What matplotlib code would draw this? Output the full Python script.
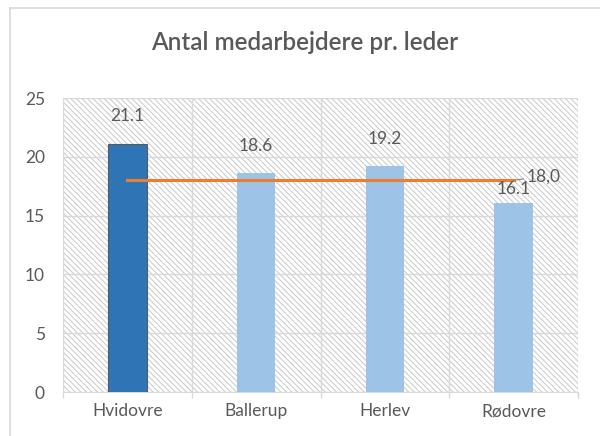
import numpy as np
import matplotlib.pyplot as plt
from matplotlib.lines import Line2D

plt.rcParams['font.family'] = ['Lato', 'DejaVu Sans']
plt.rcParams['hatch.color'] = '#C8C8C8'
plt.rcParams['hatch.linewidth'] = 0.7

title = "Antal medarbejdere pr. leder"
kommuner = ["Hvidovre", "Ballerup", "Herlev", "Rødovre"]
medarbejdere = [21.1, 18.6, 19.2, 16.1]
gennemsnit = 18.0
yticks = [0, 5, 10, 15, 20, 25]

grey = '#595959'
grid = '#D9D9D9'

fig = plt.figure(figsize=(6, 4.36), dpi=100)
ax = fig.add_axes([63 / 600, 1 - 392 / 436, 515 / 600, 294 / 436])

# chart frame (left and top edge visible)
fig.add_artist(Line2D([10 / 600, 10 / 600], [0, 1 - 8 / 436], transform=fig.transFigure,
                      color=grid, lw=1.2))
fig.add_artist(Line2D([10 / 600, 1], [1 - 8 / 436, 1 - 8 / 436], transform=fig.transFigure,
                      color=grid, lw=1.2))

x = np.arange(len(kommuner))
ax.set_xlim(-0.5, len(kommuner) - 0.5)
ax.set_ylim(0, 25)

# hatched background
ax.patch.set_facecolor('white')
bg = plt.Rectangle((0, 0), 1, 1, transform=ax.transAxes, facecolor='white',
                   edgecolor='#C8C8C8', hatch='\\' * 6, lw=0, zorder=0)
ax.add_patch(bg)

ax.set_yticks(yticks)
ax.set_xticks(x)
ax.set_xticks(np.arange(-0.5, len(kommuner)), minor=True)
ax.grid(axis='y', color=grid, lw=1, zorder=1)
ax.grid(axis='x', which='minor', color=grid, lw=1, zorder=1)
ax.set_axisbelow(True)

colors = ['#2E75B6'] + ['#9DC3E6'] * 3
edges = ['#5A5A5A', 'none', 'none', 'none']
ax.bar(x, medarbejdere, width=0.3, color=colors, edgecolor=edges, lw=0.8, zorder=3)

ax.plot([x[0], x[-1]], [gennemsnit, gennemsnit], color='#ED7D31', lw=2.2, zorder=4)

for i, v in enumerate(medarbejdere):
    dy = 14 if i < 3 else 4
    ax.annotate(f"{v:.1f}", (x[i], v), xytext=(0, dy), textcoords='offset points',
                ha='center', va='bottom', fontsize=12.5, color=grey, zorder=5)

# average label with leader line
ax.annotate(f"{gennemsnit:.1f}".replace('.', ','), (x[-1], gennemsnit), xytext=(9, 3),
            textcoords='offset points', ha='left', va='center', fontsize=12.5, color=grey,
            arrowprops=dict(arrowstyle='-', color='#7F7F7F', lw=0.8,
                            shrinkA=0, shrinkB=0), zorder=5)

ax.set_xticklabels(kommuner, fontsize=12.5, color=grey)
ax.set_yticklabels([str(t) for t in yticks], fontsize=12.5, color=grey)
ax.tick_params(axis='x', which='major', length=0, pad=8)
ax.tick_params(axis='x', which='minor', length=4, color=grid, width=1)
ax.tick_params(axis='y', length=0, pad=13)

for s in ['top', 'right', 'left']:
    ax.spines[s].set_visible(False)
ax.spines['bottom'].set_color(grid)

fig.text(305 / 600, 1 - 42 / 436, title, ha='center', va='center', fontsize=17.5,
         color=grey, fontweight='semibold')

fig.savefig('out.png', dpi=100)
